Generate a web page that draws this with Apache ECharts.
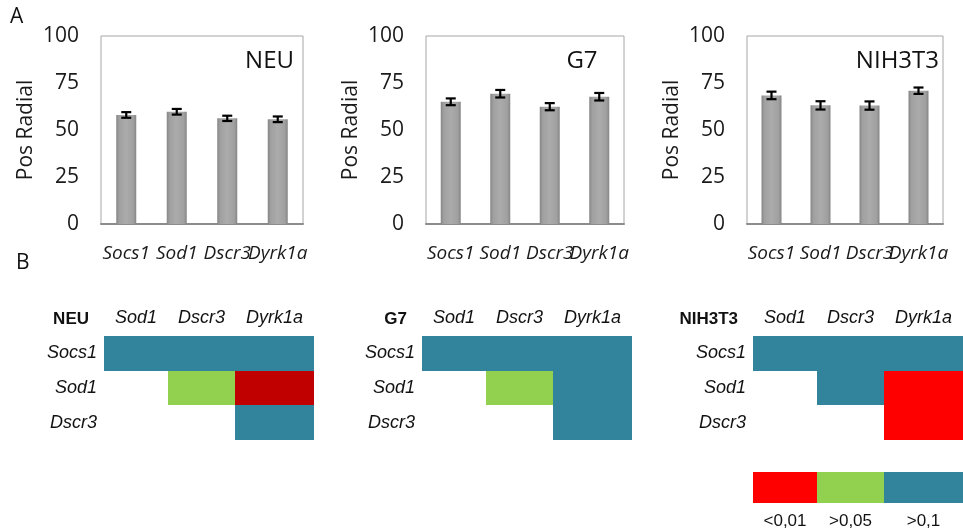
<!DOCTYPE html>
<html>
<head>
<meta charset="utf-8">
<script src="https://cdn.jsdelivr.net/npm/echarts@6/dist/echarts.min.js"></script>
<style>
  html, body { margin: 0; padding: 0; background: #fff; }
  #chart { width: 963px; height: 531px; }
</style>
</head>
<body>
<div id="chart"></div>
<script>
// Genes measured in each cell line
const genes = ['Socs1', 'Sod1', 'Dscr3', 'Dyrk1a'];
const cellLines = ['NEU', 'G7', 'NIH3T3'];

// Mean radial position (%) and error per gene
const neuMean = [58.0, 59.7, 56.2, 55.7];
const neuErr = [1.5, 1.5, 1.4, 1.5];
const g7Mean = [65.0, 69.3, 62.4, 67.7];
const g7Err = [1.8, 2.0, 1.9, 2.0];
const nihMean = [68.4, 63.1, 63.0, 70.9];
const nihErr = [2.0, 2.2, 2.2, 1.7];

const yTicks = [0, 25, 50, 75, 100];

// Pairwise comparison matrix (rows x columns), significance class per cell
const pairRows = ['Socs1', 'Sod1', 'Dscr3'];
const pairCols = ['Sod1', 'Dscr3', 'Dyrk1a'];
// classes: 0 = <0,01 (strong), 1 = <0,01, 2 = >0,05, 3 = >0,1 ; null = no comparison
const neuSig = [[3, 3, 3], [null, 2, 0], [null, null, 3]];
const g7Sig = [[3, 3, 3], [null, 2, 3], [null, null, 3]];
const nihSig = [[3, 3, 3], [null, 3, 1], [null, null, 1]];

// Colour key
const keyLabels = ['<0,01', '>0,05', '>0,1'];
const keyClasses = [1, 2, 3];
const sigColors = ['#C00000', '#FF0000', '#92D050', '#31849B'];

const means = [neuMean, g7Mean, nihMean];
const errs = [neuErr, g7Err, nihErr];
const sigs = [neuSig, g7Sig, nihSig];

// ---- layout ----
const barFont = '"Open Sans", sans-serif';
const tableFont = '"Liberation Sans", Arial, sans-serif';

const barGrids = [
  { left: 101, top: 36, width: 202, height: 188 },
  { left: 426, top: 36, width: 198, height: 188 },
  { left: 747, top: 36, width: 196, height: 188 }
];
const heatGrids = [
  { left: 104, top: 336, width: 210, height: 104 },
  { left: 422, top: 336, width: 210, height: 104 },
  { left: 753, top: 336, width: 210, height: 104 }
];
const keyGrid = { left: 753, top: 472, width: 210, height: 31 };
// table column boundaries (column widths of the table layout)
const colEdges = [0, 64, 131, 210];
const colMids = colEdges.slice(0, -1).map((e, k) => (e + colEdges[k + 1]) / 2);
function colName(names) {
  return v => {
    let best = 0;
    colMids.forEach((m, k) => { if (Math.abs(m - v) < Math.abs(colMids[best] - v)) best = k; });
    return names[best];
  };
}

const grid = [], xAxis = [], yAxis = [], series = [], graphic = [];

const barFill = {
  type: 'linear', x: 0, y: 0, x2: 1, y2: 0,
  colorStops: [
    { offset: 0, color: '#858585' },
    { offset: 0.15, color: '#a0a0a0' },
    { offset: 0.5, color: '#ababab' },
    { offset: 0.85, color: '#a0a0a0' },
    { offset: 1, color: '#858585' }
  ]
};

function errorBar(params, api) {
  const x = api.value(0), m = api.value(1), e = api.value(2);
  const top = api.coord([x, m + e]);
  const bot = api.coord([x, m - e]);
  const hw = 5;
  const st = { stroke: '#000', lineWidth: 2.2 };
  return {
    type: 'group',
    children: [
      { type: 'line', shape: { x1: top[0], y1: top[1], x2: bot[0], y2: bot[1] }, style: st },
      { type: 'line', shape: { x1: top[0] - hw, y1: top[1], x2: top[0] + hw, y2: top[1] }, style: st },
      { type: 'line', shape: { x1: bot[0] - hw, y1: bot[1], x2: bot[0] + hw, y2: bot[1] }, style: st }
    ]
  };
}

// table cell spanning one column band and one row band (snapped to whole pixels)
function tableCell(params, api) {
  const c = api.value(0), r = api.value(1), cls = api.value(2);
  const p0 = api.coord([colEdges[c], r]);
  const p1 = api.coord([colEdges[c + 1], r]);
  const h = api.size([0, 1])[1];
  const x0 = Math.round(p0[0]), x1 = Math.round(p1[0]);
  const y0 = Math.round(p0[1] - h / 2), y1 = Math.round(p0[1] + h / 2);
  return {
    type: 'rect',
    shape: { x: x0, y: y0, width: x1 - x0, height: y1 - y0 },
    style: { fill: sigColors[cls] }
  };
}

// A: bar charts of radial position
cellLines.forEach((name, i) => {
  grid.push(Object.assign({ show: true, borderColor: '#a6a6a6', borderWidth: 1 }, barGrids[i]));
  xAxis.push({
    type: 'category', gridIndex: i, data: genes,
    axisLine: { lineStyle: { color: '#8c8c8c', width: 2 } },
    axisTick: { show: false },
    axisLabel: {
      interval: 0, hideOverlap: false, margin: 20,
      fontFamily: barFont, fontStyle: 'italic', fontSize: 19, color: '#1a1a1a'
    }
  });
  yAxis.push({
    type: 'value', gridIndex: i, min: yTicks[0], max: yTicks[yTicks.length - 1], interval: 25,
    name: 'Pos Radial', nameLocation: 'middle', nameGap: 64, nameRotate: 90,
    nameTextStyle: { fontFamily: barFont, fontSize: 21, color: '#1a1a1a' },
    axisLine: { show: false }, axisTick: { show: false },
    splitLine: { show: false },
    axisLabel: { margin: 22, fontFamily: barFont, fontSize: 21, color: '#1a1a1a' }
  });
  series.push({
    type: 'bar', xAxisIndex: i, yAxisIndex: i, barWidth: 20,
    data: means[i], itemStyle: { color: barFill }, silent: true
  });
  series.push({
    type: 'custom', xAxisIndex: i, yAxisIndex: i, renderItem: errorBar, z: 5,
    data: means[i].map((m, k) => [k, m, errs[i][k]]), silent: true
  });
});

// Panel names inside the bar plots, and panel letters
graphic.push(
  { type: 'text', x: 294, y: 61, style: { text: 'NEU', font: '24px ' + barFont, fill: '#111', textAlign: 'right', textVerticalAlign: 'middle' } },
  { type: 'text', x: 582, y: 61, style: { text: 'G7', font: '24px ' + barFont, fill: '#111', textAlign: 'center', textVerticalAlign: 'middle' } },
  { type: 'text', x: 939, y: 61, style: { text: 'NIH3T3', font: '24px ' + barFont, fill: '#111', textAlign: 'right', textVerticalAlign: 'middle' } },
  { type: 'text', x: 10, y: 17, style: { text: 'A', font: '21px ' + barFont, fill: '#111', textVerticalAlign: 'middle' } },
  { type: 'text', x: 16, y: 263, style: { text: 'B', font: '21px ' + barFont, fill: '#111', textVerticalAlign: 'middle' } }
);

// B: pairwise significance tables
cellLines.forEach((name, i) => {
  const gi = 3 + i;
  grid.push(Object.assign({ show: false }, heatGrids[i]));
  xAxis.push({
    type: 'value', gridIndex: gi, min: colEdges[0], max: colEdges[colEdges.length - 1], position: 'top',
    axisLine: { show: false }, axisTick: { show: false }, splitLine: { show: false },
    axisLabel: {
      customValues: colMids, formatter: colName(pairCols),
      margin: 9, fontFamily: tableFont, fontStyle: 'italic', fontSize: 18, color: '#111'
    }
  });
  yAxis.push({
    type: 'category', gridIndex: gi, data: pairRows, inverse: true,
    axisLine: { show: false }, axisTick: { show: false }, splitLine: { show: false },
    axisLabel: { interval: 0, margin: 7, fontFamily: tableFont, fontStyle: 'italic', fontSize: 18, color: '#111' }
  });
  const cells = [];
  sigs[i].forEach((row, r) => row.forEach((v, c) => { if (v !== null) cells.push([c, r, v]); }));
  series.push({ type: 'custom', xAxisIndex: gi, yAxisIndex: gi, data: cells, renderItem: tableCell, silent: true });
  graphic.push({
    type: 'text',
    x: heatGrids[i].left - 15, y: 319,
    style: { text: name, font: 'bold 17px ' + tableFont, fill: '#111', textAlign: 'right', textVerticalAlign: 'middle' }
  });
});

// Colour key below the tables
grid.push(Object.assign({ show: false }, keyGrid));
xAxis.push({
  type: 'value', gridIndex: 6, min: colEdges[0], max: colEdges[colEdges.length - 1], position: 'bottom',
  axisLine: { show: false }, axisTick: { show: false }, splitLine: { show: false },
  axisLabel: {
    customValues: colMids, formatter: colName(keyLabels),
    margin: 10, fontFamily: tableFont, fontSize: 17, color: '#111'
  }
});
yAxis.push({ type: 'category', gridIndex: 6, data: [''], axisLine: { show: false }, axisTick: { show: false }, axisLabel: { show: false } });
series.push({
  type: 'custom', xAxisIndex: 6, yAxisIndex: 6, silent: true, renderItem: tableCell,
  data: keyClasses.map((cls, k) => [k, 0, cls])
});

const chart = echarts.init(document.getElementById('chart'), null, { renderer: 'canvas' });
chart.setOption({
  animation: false,
  backgroundColor: '#fff',
  grid, xAxis, yAxis, series, graphic
});
</script>
</body>
</html>
